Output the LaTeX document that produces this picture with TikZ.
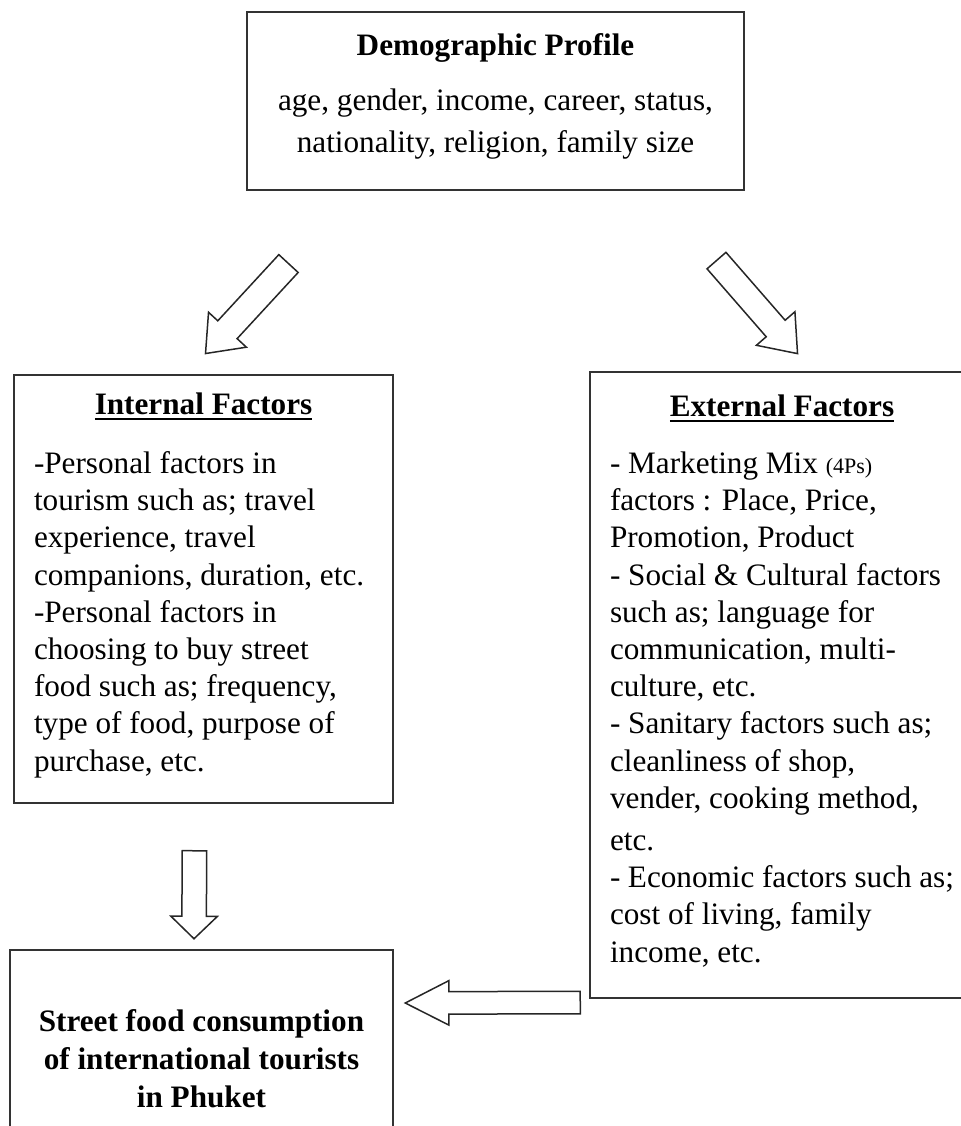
\documentclass[tikz,border=0pt]{standalone}
\usepackage{fontspec}
\setmainfont{Liberation Serif}
\usetikzlibrary{shapes.arrows}
\newsavebox{\titlebox}
\newcommand{\ultitle}[1]{\leavevmode\sbox{\titlebox}{\textbf{#1}}\rlap{\rule[-3pt]{\wd\titlebox}{1.2pt}}\usebox{\titlebox}}

\begin{document}
\begin{tikzpicture}[x=0.5pt,y=-0.5pt]
\tikzstyle{every node}=[font=\fontsize{15.6}{18.6}\selectfont];
\tikzstyle{box}=[draw=black!80,line width=1.1pt,inner xsep=10pt,inner ysep=0pt];
\tikzstyle{fat}=[single arrow,draw=black!85,line width=0.75pt,inner sep=0pt,single arrow head indent=0pt,pos=0,sloped,allow upside down,anchor=tail];
\path[use as bounding box,clip] (0,0) rectangle (961,1126);
\node[box] (demo) at (495.5,101) {\parbox[c][89pt][t]{228.5pt}{\vspace*{11pt}\centering
\textbf{Demographic Profile}\\[8.5pt]
age, gender, income, career, status,\\[2.5pt]
nationality, religion, family size}};
\node[box] (int) at (203.5,589) {\parbox[c][214pt][t]{169.5pt}{\vspace*{8.8pt}\centering
\ultitle{Internal Factors}\par\vspace{11pt}\raggedright
-Personal factors in\\
tourism such as; travel\\
experience, travel\\
companions, duration, etc.\\
-Personal factors in\\
choosing to buy street\\
food such as; frequency,\\
type of food, purpose of\\
purchase, etc.}};
\node[box] (ext) at (782,685) {\parbox[c][313pt][t]{172pt}{\vspace*{11.3pt}\centering
\ultitle{External Factors}\par\vspace{10pt}\raggedright
- Marketing Mix {\fontsize{11}{13}\selectfont(4Ps)}\\
factors : Place, Price,\\
Promotion, Product\\
- Social \& Cultural factors\\
such as; language for\\
communication, multi-\\
culture, etc.\\
- Sanitary factors such as;\\
cleanliness of shop,\\
vender, cooking method,\\[2.5pt]
etc.\\
- Economic factors such as;\\
cost of living, family\\
income, etc.}};
\node[box] (food) at (201.5,1055) {\parbox[c][105pt][t]{171.5pt}{\vspace*{29.8pt}\centering\bfseries
Street food consumption\\[0.5pt]
of international tourists\\[0.5pt]
in Phuket}};
% hollow arrows
\coordinate (a1) at (289,263);
\coordinate (a2) at (206,353);
\coordinate (b1) at (716,260);
\coordinate (b2) at (797,353);
\coordinate (c1) at (194.5,850);
\coordinate (c2) at (194,938);
\coordinate (d1) at (581,1002.5);
\coordinate (d2) at (406,1003);
\path (a1) -- (a2) node[fat,minimum height=61.2pt,inner ysep=6.2pt,single arrow head extend=6.3pt,single arrow tip angle=77] (la) {};
\path (b1) -- (b2) node[fat,minimum height=61.7pt,inner ysep=5.9pt,single arrow head extend=6.5pt,single arrow tip angle=75] (ra) {};
\path (c1) -- (c2) node[fat,minimum height=44pt,inner ysep=5.75pt,single arrow head extend=5.5pt,single arrow tip angle=92] (da) {};
\path (d1) -- (d2) node[fat,minimum height=87.5pt,inner ysep=5.25pt,single arrow head extend=5.5pt,single arrow tip angle=54] (ha) {};
\end{tikzpicture}
\end{document}
